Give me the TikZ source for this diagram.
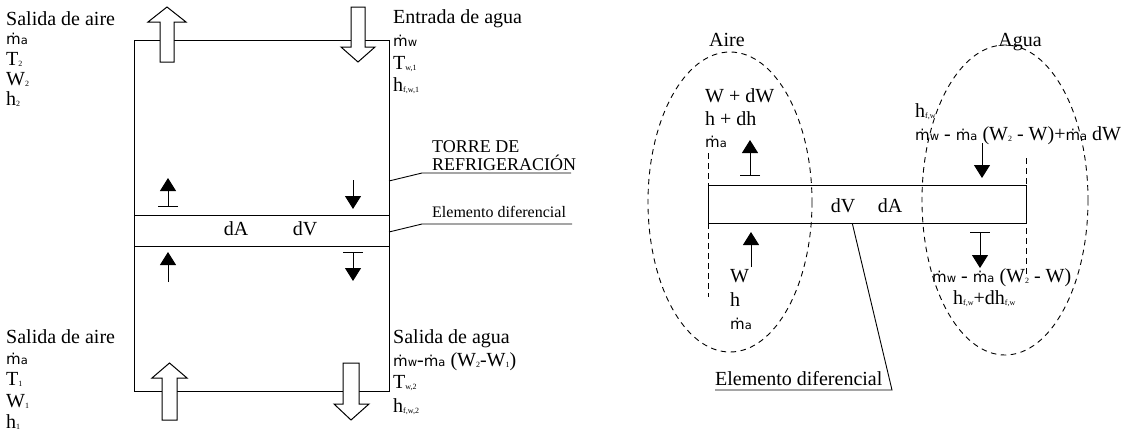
\documentclass[tikz,border=0pt]{standalone}
\usepackage{fontspec}
\setmainfont{Liberation Serif}
\newfontfamily\dvs{DejaVu Sans}
\usetikzlibrary{arrows.meta,calc}
\newcommand\lsub[1]{\raisebox{-1.5pt}{\fontsize{8}{8}\selectfont #1}}
\newcommand\mdt[1]{{\dvs\fontsize{15}{15}\selectfont ṁ\fontsize{11.5}{11.5}\selectfont #1}}
\tikzset{
  txt/.style={anchor=base west, inner sep=0pt, font=\fontsize{20}{24}\selectfont},
  ctxt/.style={anchor=base, inner sep=0pt, font=\fontsize{20}{24}\selectfont},
  lbl/.style={anchor=base west, inner sep=0pt, font=\fontsize{18}{20}\selectfont},
  slbl/.style={anchor=base west, inner sep=0pt, font=\fontsize{16}{18}\selectfont},
  wall/.style={draw, line width=1pt},
  hollow/.style={draw, fill=white, line width=1pt, line join=miter},
  sarrow/.style={line width=1pt, -{Triangle[width=16pt,length=13pt]}},
  barrow/.style={line width=1pt, {Bar[width=20pt]}-{Triangle[width=16pt,length=13pt]}},
  dline/.style={line width=0.9pt, dash pattern=on 5.5pt off 4.5pt},
  leader/.style={line width=0.9pt}
}
\begin{document}
\begin{tikzpicture}[x=1pt,y=-1pt]
\useasboundingbox (0,0) rectangle (1125,434);
% ---------------- left diagram ----------------
\draw[wall] (134,40) rectangle (389,391);
\coordinate (sl) at (134,215); \coordinate (sr) at (389,215);
\coordinate (bl) at (134,246); \coordinate (br) at (389,246);
\draw[wall] (sl) -- (sr);
\draw[wall] (bl) -- (br);
% hollow arrows
\draw[hollow] (160,62) -- (160,22) -- (148,22) -- (167,7) -- (186,22) -- (174,22) -- (174,62) -- cycle;
\draw[hollow] (351,7) -- (365,7) -- (365,47) -- (375,47) -- (358,62) -- (341,47) -- (351,47) -- cycle;
\draw[hollow] (162,420) -- (162,378) -- (152,378) -- (169.5,363) -- (187,378) -- (177,378) -- (177,420) -- cycle;
\draw[hollow] (343,363) -- (359,363) -- (359,404) -- (369,404) -- (351,420) -- (334,404) -- (343,404) -- cycle;
% small arrows
\coordinate (a1s) at (168,207); \coordinate (a1e) at (168,178);
\coordinate (a2s) at (353,180); \coordinate (a2e) at (353,209);
\coordinate (a3s) at (168,282); \coordinate (a3e) at (168,252);
\coordinate (a4s) at (353,252); \coordinate (a4e) at (353,281);
\draw[barrow] (a1s) -- (a1e);
\draw[sarrow] (a2s) -- (a2e);
\draw[sarrow] (a3s) -- (a3e);
\draw[barrow] (a4s) -- (a4e);
\node[ctxt] (dA) at (236,235) {dA};
\node[ctxt] (dV) at (305,235) {dV};
% texts
\node[txt] (sa2) at (6,25) {Salida de aire};
\node[txt] (ma2) at (6,44) {\mdt{a}};
\node[txt] (T2) at (6,65) {T\lsub{2}};
\node[txt] (W2) at (6,85) {W\lsub{2}};
\node[txt] (h2) at (6,105) {h\lsub{2}};
\node[txt] (ea) at (393,23) {Entrada de agua};
\node[txt] (mw1) at (393,46) {\mdt{w}};
\node[txt] (Tw1) at (393,69) {T\lsub{w,1}};
\node[txt] (hw1) at (393,91) {h\lsub{f,w,1}};
\node[txt] (sa1) at (6,343) {Salida de aire};
\node[txt] (ma1) at (6,364) {\mdt{a}};
\node[txt] (T1) at (6,385) {T\lsub{1}};
\node[txt] (W1) at (6,407) {W\lsub{1}};
\node[txt] (h1) at (6,428) {h\lsub{1}};
\node[txt] (sw) at (393,343) {Salida de agua};
\node[txt] (mw2) at (393,366) {\mdt{w}-\mdt{a} (W\lsub{2}-W\lsub{1})};
\node[txt] (Tw2) at (393,388) {T\lsub{w,2}};
\node[txt] (hw2) at (393,412) {h\lsub{f,w,2}};
% leader labels
\node[lbl] (torre) at (432,152) {TORRE DE};
\node[lbl] (refr) at (432,170) {REFRIGERACIÓN};
\node[slbl] (eld) at (432,217) {Elemento diferencial};
\coordinate (t1) at (389,181); \coordinate (t2) at (422,173); \coordinate (t3) at (571,173);
\draw[leader] (t1) -- (t2) -- (t3);
\coordinate (e1) at (389,232); \coordinate (e2) at (422,224); \coordinate (e3) at (572,224);
\draw[leader] (e1) -- (e2) -- (e3);
% ---------------- right diagram ----------------
\draw[dline] (730,202) ellipse [x radius=82, y radius=150];
\draw[dline] (1005,200) ellipse [x radius=83, y radius=155];
\draw[dline] (708,153) -- (708,297);
\draw[dline] (1026,158) -- (1026,277);
\node[draw, line width=1pt, minimum width=318pt, minimum height=38pt, inner sep=0pt] (el) at (867,204) {};
\node[ctxt] (dV2) at (843,212) {dV};
\node[ctxt] (dA2) at (890,212) {dA};
\node[ctxt] (aire) at (727,46) {Aire};
\node[ctxt] (agua) at (1020,46) {Agua};
\node[txt] (wdw) at (705,102) {W + dW};
\node[txt] (hdh) at (705,125) {h + dh};
\node[txt] (mat) at (705,147) {\mdt{a}};
\node[txt] (hfw) at (915,117) {h\lsub{f,w}};
\node[txt] (mwt) at (915,140) {\mdt{w} - \mdt{a} (W\lsub{2} - W)+\mdt{a} dW};
\node[txt] (Wb) at (730,282) {W};
\node[txt] (hb) at (730,306) {h};
\node[txt] (mab) at (730,329) {\mdt{a}};
\node[txt] (mwb) at (932,282) {\mdt{w} - \mdt{a} (W\lsub{2} - W)};
\node[txt] (hfb) at (953,304) {h\lsub{f,w}+dh\lsub{f,w}};
\coordinate (b1s) at (750,176); \coordinate (b1e) at (750,140);
\coordinate (b2s) at (982,143); \coordinate (b2e) at (982,178);
\coordinate (b3s) at (751,267); \coordinate (b3e) at (751,232);
\coordinate (b4s) at (980,232); \coordinate (b4e) at (980,268);
\draw[barrow] (b1s) -- (b1e);
\draw[sarrow] (b2s) -- (b2e);
\draw[sarrow] (b3s) -- (b3e);
\draw[barrow] (b4s) -- (b4e);
\node[txt] (eld2) at (715,385) {Elemento diferencial};
\coordinate (l2) at (892,390); \coordinate (l3) at (715,390);
\draw[leader] ($(el.south west)!0.454!(el.south east)$) -- (l2) -- (l3);
\end{tikzpicture}
\end{document}
